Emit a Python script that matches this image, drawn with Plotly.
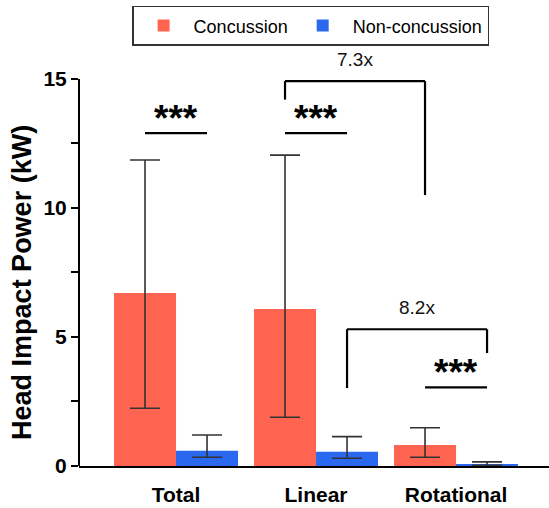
import plotly.graph_objects as go

# ---- data ----
categories = ["Total", "Linear", "Rotational"]
conc_mean = [6.70, 6.08, 0.81]
conc_low = [2.24, 1.89, 0.34]
conc_high = [11.86, 12.05, 1.48]
non_mean = [0.59, 0.55, 0.08]
non_low = [0.34, 0.30, 0.03]
non_high = [1.20, 1.14, 0.16]
y_ticks = [0, 5, 10, 15]
y_minor = [2.5, 7.5, 12.5]

RED = "#FF6450"
BLUE = "#2A68F0"
FONT = "Liberation Sans, Arial, Helvetica, sans-serif"

xpos = list(range(len(categories)))
bargap = 0.114
half = (1 - bargap) / 2  # width of one bar in category units


def err(mean, low, high):
    return dict(type="data", symmetric=False,
                array=[h - m for m, h in zip(mean, high)],
                arrayminus=[m - l for m, l in zip(mean, low)],
                color="#333333", thickness=1.6, width=15)


fig = go.Figure()
fig.add_trace(go.Bar(x=xpos, y=conc_mean, name="Concussion", marker_color=RED,
                     marker_line_width=0, error_y=err(conc_mean, conc_low, conc_high)))
fig.add_trace(go.Bar(x=xpos, y=non_mean, name="Non-concussion", marker_color=BLUE,
                     marker_line_width=0, error_y=err(non_mean, non_low, non_high)))


def red_c(i):
    return xpos[i] - half / 2


def blue_c(i):
    return xpos[i] + half / 2


shapes = []
annotations = []
LINE = dict(color="black", width=2.2)

# y axis line (stops at 15)
shapes.append(dict(type="line", xref="paper", x0=0, x1=0, yref="y", y0=0, y1=15,
                   line=dict(color="black", width=2)))

# significance lines + stars
sig = [(0, 12.9), (1, 12.9), (2, 3.05)]
for i, yv in sig:
    shapes.append(dict(type="line", xref="x", yref="y", x0=red_c(i), x1=blue_c(i),
                       y0=yv, y1=yv, line=LINE))
    annotations.append(dict(x=(red_c(i) + blue_c(i)) / 2, y=yv, xref="x", yref="y",
                            text="***", showarrow=False, yanchor="bottom", yshift=-8,
                            font=dict(family=FONT, size=37, color="black", weight="bold")))


def bracket(xa, xb, ya, yb, ytop, label):
    shapes.append(dict(type="line", xref="x", yref="y", x0=xa, x1=xa, y0=ya, y1=ytop, line=LINE))
    shapes.append(dict(type="line", xref="x", yref="y", x0=xa, x1=xb, y0=ytop, y1=ytop, line=LINE))
    shapes.append(dict(type="line", xref="x", yref="y", x0=xb, x1=xb, y0=yb, y1=ytop, line=LINE))
    annotations.append(dict(x=(xa + xb) / 2, y=ytop, xref="x", yref="y", text=label,
                            showarrow=False, yanchor="bottom", yshift=9,
                            font=dict(family=FONT, size=19, color="#111111")))


bracket(red_c(1), red_c(2), 14.2, 10.5, 14.92, "7.3x")
bracket(blue_c(1), blue_c(2), 3.02, 4.38, 5.3, "8.2x")

# y axis title
annotations.append(dict(text="Head Impact Power (kW)", xref="paper", yref="y",
                        x=-0.121, y=7.1, textangle=-90, showarrow=False,
                        xanchor="center", yanchor="middle",
                        font=dict(family=FONT, size=27, color="black", weight="bold")))

fig.update_layout(
    width=549, height=508,
    margin=dict(l=79, r=0, t=40, b=42, autoexpand=False),
    plot_bgcolor="white", paper_bgcolor="white",
    barmode="group", bargap=bargap, bargroupgap=0,
    font=dict(family=FONT, color="black"),
    shapes=shapes, annotations=annotations,
    legend=dict(orientation="h", x=0.113, y=1.08, xanchor="left", yanchor="top",
                bordercolor="#333333", borderwidth=1.5, bgcolor="white",
                font=dict(family=FONT, size=18, color="black"),
                itemwidth=50),
    xaxis=dict(range=[-0.693, 2.664], tickvals=xpos, ticktext=categories,
               showline=True, linecolor="black", linewidth=2, ticks="",
               showgrid=False, zeroline=False, ticklabelstandoff=9, automargin=False,
               tickfont=dict(family=FONT, size=21, color="black", weight="bold")),
    yaxis=dict(range=[0, 16.51], tickvals=y_ticks, showline=False, showgrid=False,
               zeroline=False, ticks="outside", ticklen=7, tickwidth=2, tickcolor="black",
               automargin=False,
               minor=dict(tickvals=y_minor, ticks="outside", ticklen=7, tickwidth=2,
                          tickcolor="black", showgrid=False),
               tickfont=dict(family=FONT, size=21, color="black", weight="bold")),
)

fig.write_html("out.html", config={"displayModeBar": False},
               post_script="document.body.style.margin='0';document.body.style.overflow='hidden';")
